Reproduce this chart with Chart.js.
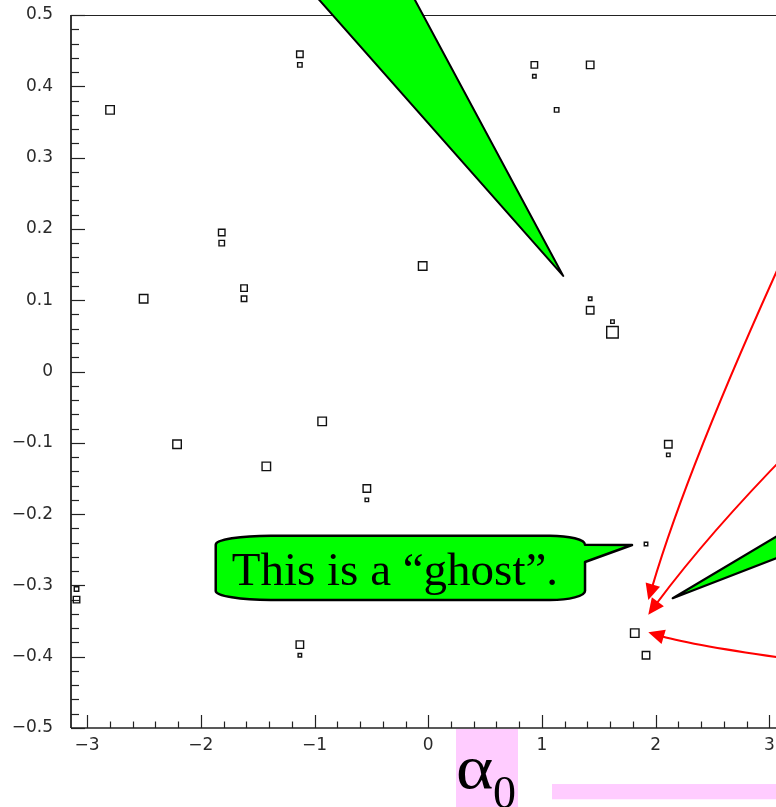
<!DOCTYPE html>
<html>
<head>
<meta charset="utf-8">
<script src="https://cdn.jsdelivr.net/npm/chart.js@4/dist/chart.umd.min.js"></script>
<style>
  html, body { margin: 0; padding: 0; background: #ffffff; overflow: hidden; width: 776px; height: 807px; }
  #wrap { position: relative; width: 800px; height: 807px; }
</style>
</head>
<body>
<div id="wrap"><canvas id="c" width="800" height="807"></canvas></div>
<script>
// Occupied cells of the 2D histogram: bin centre in alpha0, bin centre in y, bin content
const alpha0 = [
  -3.093, -3.093, -2.798, -2.503, -2.209, -1.816, -1.816, -1.620, -1.620, -1.424,
  -1.129, -1.129, -1.129, -1.129, -0.933, -0.540, -0.540, -0.049,  0.933,  0.933,
   1.129,  1.424,  1.424,  1.424,  1.620,  1.620,  1.816,  1.915,  1.915,  2.111,
   2.111
];
const yValues = [
  -0.305, -0.320,  0.367,  0.102, -0.102,  0.195,  0.180,  0.117,  0.102, -0.133,
   0.445,  0.430, -0.383, -0.398, -0.070, -0.164, -0.180,  0.148,  0.430,  0.414,
   0.367,  0.430,  0.102,  0.086,  0.070,  0.055, -0.367, -0.242, -0.398, -0.102,
  -0.117
];
const binCounts = [
  5, 7, 9, 9, 9, 7, 6, 7, 6, 9,
  7, 5, 8, 4, 9, 8, 4, 9, 7, 4,
  5, 8, 4, 8, 4, 12, 9, 4, 8, 8,
  4
];

// Labelled axis ticks
const xTickValues = [-3, -2, -1, 0, 1, 2, 3];
const yTickValues = [-0.5, -0.4, -0.3, -0.2, -0.1, 0, 0.1, 0.2, 0.3, 0.4, 0.5];

const AXIS_FONT = { family: '"DejaVu Sans", "Liberation Sans", sans-serif', size: 17 };
const SERIF = '"Liberation Serif", "Times New Roman", serif';

function fmtTick(v, digits) {
  if (Math.abs(v) < 1e-9) return '0';
  const s = v.toFixed(digits);
  return s.replace('-', '\u2212');
}

// Frame and inward-pointing major/minor tick marks
const frameTicks = {
  id: 'frameTicks',
  beforeDatasetsDraw(chart) {
    const { ctx, chartArea: a, scales: { x, y } } = chart;
    ctx.save();
    ctx.strokeStyle = '#222';
    ctx.lineCap = 'butt';

    // top frame line
    ctx.lineWidth = 1.2;
    ctx.beginPath();
    ctx.moveTo(a.left, a.top + 0.5);
    ctx.lineTo(a.right, a.top + 0.5);
    ctx.stroke();

    // left axis
    ctx.lineWidth = 1.8;
    ctx.beginPath();
    ctx.moveTo(a.left, a.top);
    ctx.lineTo(a.left, a.bottom);
    ctx.stroke();

    // bottom axis
    ctx.lineWidth = 1.5;
    ctx.beginPath();
    ctx.moveTo(a.left, a.bottom);
    ctx.lineTo(a.right, a.bottom);
    ctx.stroke();

    // x ticks every 0.2, major every 1
    ctx.lineWidth = 1.2;
    for (let i = -16; i <= 16; i++) {
      const v = i * 0.2;
      if (v < x.min || v > x.max) continue;
      const px = Math.round(x.getPixelForValue(v)) + 0.5;
      const len = (i % 5 === 0) ? 13 : 6.5;
      ctx.beginPath();
      ctx.moveTo(px, a.bottom);
      ctx.lineTo(px, a.bottom - len);
      ctx.stroke();
    }
    // y ticks every 0.02, major every 0.1
    for (let i = -25; i <= 25; i++) {
      const v = i * 0.02;
      const py = Math.round(y.getPixelForValue(v)) + 0.5;
      const len = (i % 5 === 0) ? 14 : 8;
      ctx.beginPath();
      ctx.moveTo(a.left, py);
      ctx.lineTo(a.left + len, py);
      ctx.stroke();
    }
    ctx.restore();
  }
};

function arrowCurve(ctx, tip, p0, c) {
  // quadratic curve from p0 to tip, finished by a filled head along the end tangent
  const dx = tip[0] - c[0], dy = tip[1] - c[1];
  const d = Math.hypot(dx, dy);
  const ux = dx / d, uy = dy / d;
  const headLen = 16, headHalf = 7.5;
  const base = [tip[0] - ux * headLen, tip[1] - uy * headLen];
  ctx.beginPath();
  ctx.moveTo(p0[0], p0[1]);
  ctx.quadraticCurveTo(c[0], c[1], base[0] + ux * 2, base[1] + uy * 2);
  ctx.stroke();
  ctx.beginPath();
  ctx.moveTo(tip[0], tip[1]);
  ctx.lineTo(base[0] - uy * headHalf, base[1] + ux * headHalf);
  ctx.lineTo(base[0] + uy * headHalf, base[1] - ux * headHalf);
  ctx.closePath();
  ctx.fill();
}

// Callouts, arrows and the axis title drawn over the plot
const callouts = {
  id: 'callouts',
  afterDraw(chart) {
    const { ctx, chartArea: a, scales: { x, y } } = chart;
    const P = (vx, vy) => [x.getPixelForValue(vx), y.getPixelForValue(vy)];
    ctx.save();
    ctx.lineJoin = 'round';

    // large green wedge from the top
    let t = P(1.187, 0.134);
    ctx.beginPath();
    ctx.moveTo(t[0], t[1]);
    ctx.lineTo(t[0] - 279.3, t[1] - 316);
    ctx.lineTo(t[0] - 169.8, t[1] - 316);
    ctx.closePath();
    ctx.fillStyle = '#00ff00';
    ctx.fill();
    ctx.strokeStyle = '#000';
    ctx.lineWidth = 2;
    ctx.stroke();

    // small green wedge from the right
    t = P(2.150, -0.318);
    ctx.beginPath();
    ctx.moveTo(t[0], t[1]);
    ctx.lineTo(t[0] + 127.3, t[1] - 75.9);
    ctx.lineTo(t[0] + 127.3, t[1] - 49.3);
    ctx.closePath();
    ctx.fill();
    ctx.lineWidth = 2.2;
    ctx.stroke();

    // speech bubble pointing at the ghost cell
    t = P(1.792, -0.2433);
    const L = t[0] - 416.3, R = t[0] - 47, T = t[1] - 9.3, B = t[1] + 55;
    const rxL = 55, rxR = 35, ry = 9;
    ctx.beginPath();
    ctx.moveTo(L + rxL, T);
    ctx.lineTo(R - rxR, T);
    ctx.ellipse(R - rxR, T + ry, rxR, ry, 0, -Math.PI / 2, 0);
    ctx.lineTo(t[0], t[1]);
    ctx.lineTo(R, t[1] + 17);
    ctx.lineTo(R, B - ry);
    ctx.ellipse(R - rxR, B - ry, rxR, ry, 0, 0, Math.PI / 2);
    ctx.lineTo(L + rxL, B);
    ctx.ellipse(L + rxL, B - ry, rxL, ry, 0, Math.PI / 2, Math.PI);
    ctx.lineTo(L, T + ry);
    ctx.ellipse(L + rxL, T + ry, rxL, ry, 0, Math.PI, Math.PI * 1.5);
    ctx.closePath();
    ctx.fillStyle = '#00ff00';
    ctx.fill();
    ctx.lineWidth = 2.5;
    ctx.strokeStyle = '#000';
    ctx.stroke();
    ctx.fillStyle = '#000';
    ctx.font = '47px ' + SERIF;
    ctx.textAlign = 'left';
    ctx.textBaseline = 'alphabetic';
    ctx.fillText('This is a \u201cghost\u201d.', L + 16, t[1] + 40);

    // red arrows converging on the reconstructed cell
    ctx.strokeStyle = '#ff0000';
    ctx.fillStyle = '#ff0000';
    ctx.lineWidth = 2;
    let tip = P(1.935, -0.3205);
    arrowCurve(ctx, tip, [tip[0] + 136.7, tip[1] - 347], [tip[0] + 39.7, tip[1] - 134]);
    tip = P(1.935, -0.341);
    arrowCurve(ctx, tip, [tip[0] + 141.7, tip[1] - 164], [tip[0] + 60.7, tip[1] - 81.4]);
    tip = P(1.935, -0.3658);
    arrowCurve(ctx, tip, [tip[0] + 141.7, tip[1] + 26.7], [tip[0] + 44.2, tip[1] + 13]);

    // axis title alpha_0 on a highlight
    ctx.fillStyle = '#ffccff';
    ctx.fillRect(456, a.bottom + 1, 62, 90);
    ctx.fillRect(552, 784, 260, 15.3);
    ctx.fillStyle = '#000';
    ctx.save();
    ctx.translate(456, 788);
    ctx.scale(1.15, 1);
    ctx.font = '62px ' + SERIF;
    ctx.fillText('\u03b1', 0, 0);
    ctx.restore();
    ctx.font = '46px ' + SERIF;
    ctx.fillText('0', 493, 808);
    ctx.restore();
  }
};

new Chart(document.getElementById('c'), {
  type: 'scatter',
  data: {
    datasets: [{
      data: alpha0.map((v, i) => ({ x: v, y: yValues[i] })),
      pointStyle: 'rect',
      pointRadius: (c) => (binCounts[c.dataIndex] - 0.5) / Math.SQRT2,
      pointHoverRadius: (c) => (binCounts[c.dataIndex] - 0.5) / Math.SQRT2,
      borderColor: '#111',
      backgroundColor: 'rgba(255,255,255,0)',
      borderWidth: 1.4,
      showLine: false
    }]
  },
  options: {
    responsive: false,
    animation: false,
    devicePixelRatio: 1,
    events: [],
    layout: { padding: { top: 15, right: 14.5, left: 0, bottom: 0 } },
    plugins: { legend: { display: false }, tooltip: { enabled: false }, title: { display: false } },
    scales: {
      x: {
        type: 'linear',
        min: -Math.PI,
        max: Math.PI,
        afterBuildTicks: (s) => { s.ticks = xTickValues.map(v => ({ value: v })); },
        afterFit: (s) => { s.height = 79; s.paddingLeft = 0; s.paddingRight = 0; },
        grid: { display: false, drawTicks: false, tickLength: 0 },
        border: { display: false },
        ticks: {
          autoSkip: false, maxRotation: 0, padding: 7,
          color: '#2a2a2a', font: AXIS_FONT,
          callback: (v) => fmtTick(v, 0)
        }
      },
      y: {
        type: 'linear',
        min: -0.5,
        max: 0.5,
        afterBuildTicks: (s) => { s.ticks = yTickValues.map(v => ({ value: v })); },
        afterFit: (s) => { s.width = 71; s.paddingTop = 0; s.paddingBottom = 0; },
        grid: { display: false, drawTicks: false, tickLength: 0 },
        border: { display: false },
        ticks: {
          autoSkip: false, padding: 18,
          color: '#2a2a2a', font: AXIS_FONT,
          callback: (v) => fmtTick(v, 1)
        }
      }
    }
  },
  plugins: [frameTicks, callouts]
});
</script>
</body>
</html>
